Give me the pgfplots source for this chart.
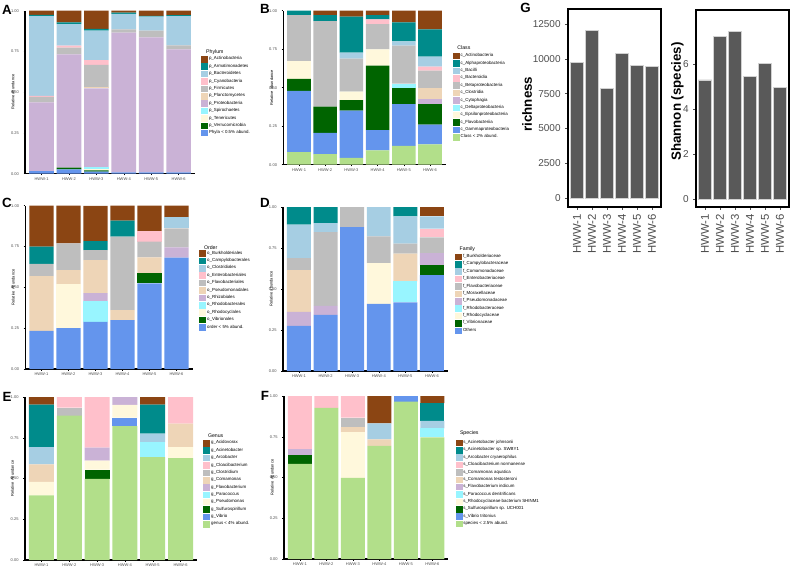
\documentclass[border=0pt]{standalone}
\usepackage{fontspec}
\setmainfont{Liberation Sans}
\usepackage{pgfplots}
\pgfplotsset{compat=1.18}
\definecolor{cBrown}{HTML}{8B4513}
\definecolor{cTeal}{HTML}{008B8B}
\definecolor{cLB}{HTML}{A6CEE3}
\definecolor{cPink}{HTML}{FFC0CB}
\definecolor{cGrey}{HTML}{BEBEBE}
\definecolor{cPeach}{HTML}{EED5B7}
\definecolor{cThistle}{HTML}{CAB2D6}
\definecolor{cCyan}{HTML}{98F5FF}
\definecolor{cSilk}{HTML}{FFF8DC}
\definecolor{cDG}{HTML}{006400}
\definecolor{cBlue}{HTML}{6495ED}
\definecolor{cLG}{HTML}{B2DF8A}
\definecolor{cBar}{HTML}{595959}
\definecolor{cTick}{HTML}{4D4D4D}
\newcommand{\fs}{\fontsize{3}{3.6}\selectfont}
\newcommand{\fl}{\fontsize{3.3}{3.8}\selectfont}
\newcommand{\ft}{\fontsize{3.9}{4.5}\selectfont}
\newcommand{\fp}{\bfseries\fontsize{10}{11}\selectfont}
\pgfplotsset{
  stk/.style={
    scale only axis, anchor=south west,
    ybar stacked, bar width=0.9,
    xmin=-0.6, xmax=5.6, ymin=0, ymax=1,
    xtick={0,...,5}, xticklabels={HWW-1,HWW-2,HWW-3,HWW-4,HWW-5,HWW-6},
    ytick={0,0.25,0.5,0.75,1},
    yticklabel style={/pgf/number format/.cd, fixed, fixed zerofill, precision=2},
    /pgf/number format/assume math mode=true,
    axis x line*=bottom, axis y line*=left,
    axis line style={black, line width=1.1pt, -},
    tick style={black, line width=0.3pt},
    major tick length=1.2pt, tick align=outside,
    ticklabel style={font=\fs, text=cTick},
    xticklabel style={yshift=1.6pt},
    label style={font=\fs},
    ylabel style={at={(axis description cs:-0.072,0.5)}, anchor=center},
    reverse legend, legend cell align=left,
    legend image code/.code={\fill[##1] (0pt,-2.45pt) rectangle (5.2pt,2.45pt);},
    legend style={draw=none, fill=none, anchor=north west, inner sep=0pt,
      row sep=0.45pt, font=\fl, nodes={inner sep=0.6pt},
      /tikz/every even column/.append style={column sep=1.4pt}},
  },
  gbar/.style={
    scale only axis, anchor=south west, ybar, bar width=0.9,
    xmin=-0.6, xmax=5.6,
    xtick={0,...,5}, xticklabels={HWW-1,HWW-2,HWW-3,HWW-4,HWW-5,HWW-6},
    /pgf/number format/assume math mode=true,
    axis line style={black, line width=0.9pt},
    tick style={cTick, line width=0.5pt},
    major tick length=2pt, tick align=outside,
    xtick pos=bottom, ytick pos=left,
    yticklabel style={font=\fontsize{7.5}{8.5}\selectfont, text=cTick},
    xticklabel style={font=\fontsize{8.5}{9.5}\selectfont, text=cTick, rotate=90, anchor=east},
    label style={font=\bfseries\fontsize{10}{11}\selectfont},
    scaled y ticks=false,
    yticklabel style={/pgf/number format/1000 sep={}},
  }
}
\begin{document}
\begin{tikzpicture}[x=0.75pt,y=-0.75pt]
\path[use as bounding box] (0,0) rectangle (790,567);

% ---------------- A ----------------
\begin{axis}[stk, at={({25.1*0.75pt},{-173.7*0.75pt})}, width=127.5pt, height=122.25pt,
  ylabel={Relative abundance}, legend style={at={(1.035,0.724)}}]
\addplot[fill=cBlue,draw=none] coordinates {(0,.016) (1,.027) (2,.012) (3,.008) (4,.008) (5,.008)};
\addlegendentry{Phyla < 0.5\% abund.}
\addplot[fill=cDG,draw=none] coordinates {(0,0) (1,.010) (2,.008) (3,0) (4,0) (5,0)};
\addlegendentry{p\_Verrucomicrobia}
\addplot[fill=cSilk,draw=none] coordinates {(0,0) (1,0) (2,.008) (3,0) (4,0) (5,0)};
\addlegendentry{p\_Tenericutes}
\addplot[fill=cCyan,draw=none] coordinates {(0,0) (1,0) (2,.014) (3,0) (4,0) (5,0)};
\addlegendentry{p\_Spirochaetes}
\addplot[fill=cThistle,draw=none] coordinates {(0,.421) (1,.695) (2,.4815) (3,.857) (4,.828) (5,.755)};
\addlegendentry{p\_Proteobacteria}
\addplot[fill=cPeach,draw=none] coordinates {(0,0) (1,0) (2,.0065) (3,0) (4,0) (5,0)};
\addlegendentry{p\_Planctomycetes}
\addplot[fill=cGrey,draw=none] coordinates {(0,.035) (1,.041) (2,.137) (3,.020) (4,.041) (5,.024)};
\addlegendentry{p\_Firmicutes}
\addplot[fill=cPink,draw=none] coordinates {(0,.006) (1,.012) (2,.030) (3,0) (4,0) (5,0)};
\addlegendentry{p\_Cyanobacteria}
\addplot[fill=cLB,draw=none] coordinates {(0,.489) (1,.133) (2,.180) (3,.095) (4,.086) (5,.180)};
\addlegendentry{p\_Bacteroidetes}
\addplot[fill=cTeal,draw=none] coordinates {(0,.007) (1,.010) (2,.011) (3,.008) (4,.006) (5,.006)};
\addlegendentry{p\_Armatimonadetes}
\addplot[fill=cBrown,draw=none] coordinates {(0,.026) (1,.072) (2,.112) (3,.012) (4,.031) (5,.027)};
\addlegendentry{p\_Actinobacteria}
\end{axis}

% ---------------- B ----------------
\begin{axis}[stk, at={({283.3*0.75pt},{-164.7*0.75pt})}, width=121.8pt, height=115.5pt,
  ylabel={Relative abundance}, legend style={at={(1.043,0.729)}}]
\addplot[fill=cLG,draw=none] coordinates {(0,.082) (1,.069) (2,.045) (3,.093) (4,.123) (5,.132)};
\addlegendentry{Class < 2\% abund.}
\addplot[fill=cBlue,draw=none] coordinates {(0,.398) (1,.137) (2,.306) (3,.132) (4,.271) (5,.128)};
\addlegendentry{c\_Gammaproteobacteria}
\addplot[fill=cDG,draw=none] coordinates {(0,.078) (1,.171) (2,.069) (3,.418) (4,.104) (5,.134)};
\addlegendentry{c\_Flavobacteriia}
\addplot[fill=cSilk,draw=none] coordinates {(0,.115) (1,0) (2,.054) (3,.106) (4,0) (5,0)};
\addlegendentry{c\_Epsilonproteobacteria}
\addplot[fill=cCyan,draw=none] coordinates {(0,0) (1,0) (2,0) (3,0) (4,.028) (5,0)};
\addlegendentry{c\_Deltaproteobacteria}
\addplot[fill=cThistle,draw=none] coordinates {(0,0) (1,0) (2,0) (3,0) (4,0) (5,.030)};
\addlegendentry{c\_Cytophagia}
\addplot[fill=cPeach,draw=none] coordinates {(0,0) (1,0) (2,0) (3,0) (4,0) (5,.074)};
\addlegendentry{c\_Clostridia}
\addplot[fill=cGrey,draw=none] coordinates {(0,.299) (1,.556) (2,.214) (3,.164) (4,.247) (5,.113)};
\addlegendentry{c\_Betaproteobacteria}
\addplot[fill=cPink,draw=none] coordinates {(0,0) (1,0) (2,0) (3,.031) (4,0) (5,.026)};
\addlegendentry{c\_Bacteroidia}
\addplot[fill=cLB,draw=none] coordinates {(0,0) (1,0) (2,.039) (3,0) (4,.028) (5,.065)};
\addlegendentry{c\_Bacilli}
\addplot[fill=cTeal,draw=none] coordinates {(0,.028) (1,.039) (2,.234) (3,.028) (4,.123) (5,.177)};
\addlegendentry{c\_Alphaproteobacteria}
\addplot[fill=cBrown,draw=none] coordinates {(0,0) (1,.028) (2,.039) (3,.028) (4,.076) (5,.121)};
\addlegendentry{c\_Actinobacteria}
\end{axis}

% ---------------- C ----------------
\begin{axis}[stk, at={({25.3*0.75pt},{-369*0.75pt})}, width=125.55pt, height=122.5pt,
  ylabel={Relative Abundance}, legend style={at={(1.039,0.729)}}]
\addplot[fill=cBlue,draw=none] coordinates {(0,.233) (1,.251) (2,.288) (3,.300) (4,.524) (5,.682)};
\addlegendentry{order < 5\% abund.}
\addplot[fill=cDG,draw=none] coordinates {(0,0) (1,0) (2,0) (3,0) (4,.062) (5,0)};
\addlegendentry{o\_Vibrionales}
\addplot[fill=cSilk,draw=none] coordinates {(0,0) (1,.269) (2,0) (3,0) (4,0) (5,0)};
\addlegendentry{o\_Rhodocyclales}
\addplot[fill=cCyan,draw=none] coordinates {(0,0) (1,0) (2,.128) (3,0) (4,0) (5,0)};
\addlegendentry{o\_Rhodobacterales}
\addplot[fill=cThistle,draw=none] coordinates {(0,0) (1,0) (2,.049) (3,0) (4,0) (5,.063)};
\addlegendentry{o\_Rhizobiales}
\addplot[fill=cPeach,draw=none] coordinates {(0,.336) (1,.086) (2,.202) (3,.061) (4,.098) (5,0)};
\addlegendentry{o\_Pseudomonadales}
\addplot[fill=cGrey,draw=none] coordinates {(0,.074) (1,.163) (2,.061) (3,.449) (4,.096) (5,.116)};
\addlegendentry{o\_Flavobacteriales}
\addplot[fill=cPink,draw=none] coordinates {(0,0) (1,0) (2,0) (3,0) (4,.065) (5,0)};
\addlegendentry{o\_Enterobacteriales}
\addplot[fill=cLB,draw=none] coordinates {(0,0) (1,0) (2,0) (3,0) (4,0) (5,.068)};
\addlegendentry{o\_Clostridiales}
\addplot[fill=cTeal,draw=none] coordinates {(0,.106) (1,0) (2,.055) (3,.098) (4,0) (5,0)};
\addlegendentry{o\_Campylobacterales}
\addplot[fill=cBrown,draw=none] coordinates {(0,.251) (1,.231) (2,.216) (3,.092) (4,.155) (5,.071)};
\addlegendentry{o\_Burkholderiales}
\end{axis}

% ---------------- D ----------------
\begin{axis}[stk, at={({283*0.75pt},{-371*0.75pt})}, width=123.7pt, height=123pt,
  ylabel={Relative abundance}, legend style={at={(1.043,0.718)}}]
\addplot[fill=cBlue,draw=none] coordinates {(0,.275) (1,.342) (2,.878) (3,.409) (4,.418) (5,.585)};
\addlegendentry{Others}
\addplot[fill=cDG,draw=none] coordinates {(0,0) (1,0) (2,0) (3,0) (4,0) (5,.059)};
\addlegendentry{f\_Vibrionaceae}
\addplot[fill=cSilk,draw=none] coordinates {(0,0) (1,0) (2,0) (3,.249) (4,0) (5,0)};
\addlegendentry{f\_Rhodocyclaceae}
\addplot[fill=cCyan,draw=none] coordinates {(0,0) (1,0) (2,0) (3,0) (4,.128) (5,0)};
\addlegendentry{f\_Rhodobacteraceae}
\addplot[fill=cThistle,draw=none] coordinates {(0,.085) (1,.055) (2,0) (3,0) (4,0) (5,.075)};
\addlegendentry{f\_Pseudomonadaceae}
\addplot[fill=cPeach,draw=none] coordinates {(0,.255) (1,0) (2,0) (3,0) (4,.169) (5,0)};
\addlegendentry{f\_Moraxellaceae}
\addplot[fill=cGrey,draw=none] coordinates {(0,.073) (1,.450) (2,.122) (3,.163) (4,.061) (5,.096)};
\addlegendentry{f\_Flavobacteriaceae}
\addplot[fill=cPink,draw=none] coordinates {(0,0) (1,0) (2,0) (3,0) (4,0) (5,.053)};
\addlegendentry{f\_Enterobacteriaceae}
\addplot[fill=cLB,draw=none] coordinates {(0,.204) (1,.055) (2,0) (3,.179) (4,.167) (5,.075)};
\addlegendentry{f\_Comamonadaceae}
\addplot[fill=cTeal,draw=none] coordinates {(0,.108) (1,.098) (2,0) (3,0) (4,.057) (5,0)};
\addlegendentry{f\_Campylobacteraceae}
\addplot[fill=cBrown,draw=none] coordinates {(0,0) (1,0) (2,0) (3,0) (4,0) (5,.057)};
\addlegendentry{f\_Burkholderiaceae}
\end{axis}

% ---------------- E ----------------
\begin{axis}[stk, at={({24.8*0.75pt},{-560*0.75pt})}, width=129.3pt, height=122.25pt,
  ylabel={Relative Abundance}, legend style={at={(1.035,0.738)}}]
\addplot[fill=cLG,draw=none] coordinates {(0,.397) (1,.886) (2,.497) (3,.821) (4,.631) (5,.625)};
\addlegendentry{genus < 4\% abund.}
\addplot[fill=cBlue,draw=none] coordinates {(0,0) (1,0) (2,0) (3,.053) (4,0) (5,0)};
\addlegendentry{g\_Vibrio}
\addplot[fill=cDG,draw=none] coordinates {(0,0) (1,0) (2,.057) (3,0) (4,0) (5,0)};
\addlegendentry{g\_Sulfurospirillum}
\addplot[fill=cSilk,draw=none] coordinates {(0,.082) (1,0) (2,.055) (3,.077) (4,0) (5,.067)};
\addlegendentry{g\_Pseudomonas}
\addplot[fill=cCyan,draw=none] coordinates {(0,0) (1,0) (2,0) (3,0) (4,.090) (5,0)};
\addlegendentry{g\_Paracoccus}
\addplot[fill=cThistle,draw=none] coordinates {(0,0) (1,0) (2,.081) (3,.049) (4,0) (5,0)};
\addlegendentry{g\_Flavobacterium}
\addplot[fill=cPeach,draw=none] coordinates {(0,.108) (1,0) (2,0) (3,0) (4,0) (5,.145)};
\addlegendentry{g\_Comamonas}
\addplot[fill=cGrey,draw=none] coordinates {(0,0) (1,.049) (2,0) (3,0) (4,0) (5,0)};
\addlegendentry{g\_Clostridium}
\addplot[fill=cPink,draw=none] coordinates {(0,0) (1,.065) (2,.310) (3,0) (4,0) (5,.163)};
\addlegendentry{g\_Cloacibacterium}
\addplot[fill=cLB,draw=none] coordinates {(0,.105) (1,0) (2,0) (3,0) (4,.055) (5,0)};
\addlegendentry{g\_Arcobacter}
\addplot[fill=cTeal,draw=none] coordinates {(0,.261) (1,0) (2,0) (3,0) (4,.177) (5,0)};
\addlegendentry{g\_Acinetobacter}
\addplot[fill=cBrown,draw=none] coordinates {(0,.047) (1,0) (2,0) (3,0) (4,.047) (5,0)};
\addlegendentry{g\_Acidovorax}
\end{axis}

% ---------------- F ----------------
\begin{axis}[stk, at={({284*0.75pt},{-559*0.75pt})}, width=123.2pt, height=122.25pt,
  ylabel={Relative Abundance}, legend style={at={(1.043,0.735)}}]
\addplot[fill=cLG,draw=none] coordinates {(0,.584) (1,.927) (2,.497) (3,.694) (4,.966) (5,.746)};
\addlegendentry{species < 2.5\% abund.}
\addplot[fill=cBlue,draw=none] coordinates {(0,0) (1,0) (2,0) (3,0) (4,.034) (5,0)};
\addlegendentry{s\_Vibrio tritonius}
\addplot[fill=cDG,draw=none] coordinates {(0,.051) (1,0) (2,0) (3,0) (4,0) (5,0)};
\addlegendentry{s\_Sulfurospirillum sp. UCH001}
\addplot[fill=cSilk,draw=none] coordinates {(0,0) (1,0) (2,.280) (3,0) (4,0) (5,0)};
\addlegendentry{s\_Rhodocyclaceae bacterium SHINM1}
\addplot[fill=cCyan,draw=none] coordinates {(0,0) (1,0) (2,0) (3,0) (4,0) (5,.055)};
\addlegendentry{s\_Paracoccus denitrificans}
\addplot[fill=cThistle,draw=none] coordinates {(0,.040) (1,0) (2,0) (3,0) (4,0) (5,0)};
\addlegendentry{s\_Flavobacterium indicum}
\addplot[fill=cPeach,draw=none] coordinates {(0,0) (1,0) (2,.032) (3,.040) (4,0) (5,0)};
\addlegendentry{s\_Comamonas testosteroni}
\addplot[fill=cGrey,draw=none] coordinates {(0,0) (1,0) (2,.059) (3,0) (4,0) (5,0)};
\addlegendentry{s\_Comamonas aquatica}
\addplot[fill=cPink,draw=none] coordinates {(0,.325) (1,.073) (2,.132) (3,0) (4,0) (5,0)};
\addlegendentry{s\_Cloacibacterium normanense}
\addplot[fill=cLB,draw=none] coordinates {(0,0) (1,0) (2,0) (3,.098) (4,0) (5,.047)};
\addlegendentry{s\_Arcobacter cryaerophilus}
\addplot[fill=cTeal,draw=none] coordinates {(0,0) (1,0) (2,0) (3,0) (4,0) (5,.109)};
\addlegendentry{s\_Acinetobacter sp. SWBY1}
\addplot[fill=cBrown,draw=none] coordinates {(0,0) (1,0) (2,0) (3,.168) (4,0) (5,.043)};
\addlegendentry{s\_Acinetobacter johnsonii}
\end{axis}

% ---------------- G ----------------
\begin{axis}[gbar, at={({568*0.75pt},{-207*0.75pt})}, width=69.75pt, height=148.5pt,
  ymin=-640, ymax=13580, ytick={0,2500,5000,7500,10000,12500},
  ylabel={richness}, ylabel style={at={(axis description cs:-0.44,0.52)}, anchor=center}]
\addplot[fill=cBar, draw=white!82!black, line width=0.4pt] coordinates {(0,9770) (1,12020) (2,7853) (3,10417) (4,9555) (5,9460)};
\end{axis}
\begin{axis}[gbar, at={({696*0.75pt},{-207*0.75pt})}, width=69.75pt, height=147.75pt,
  ymin=-0.36, ymax=8.4, ytick={0,2,4,6},
  ylabel={Shannon (species)}, ylabel style={at={(axis description cs:-0.2,0.535)}, anchor=center}]
\addplot[fill=cBar, draw=white!82!black, line width=0.4pt] coordinates {(0,5.29) (1,7.21) (2,7.44) (3,5.44) (4,6.01) (5,4.95)};
\end{axis}

% legend titles and panel letters
\node[font=\ft, anchor=base west] at (201.5,53.5) {Phylum};
\node[font=\ft, anchor=base west] at (452.7,50) {Class};
\node[font=\ft, anchor=base west] at (199.3,249) {Order};
\node[font=\ft, anchor=base west] at (455,250.5) {Family};
\node[font=\ft, anchor=base west] at (203.3,437) {Genus};
\node[font=\ft, anchor=base west] at (455.3,434.5) {Species};
\node[font=\fp] at (7,10) {A};
\node[font=\fp] at (265,9) {B};
\node[font=\fp] at (7,203) {C};
\node[font=\fp] at (265,203) {D};
\node[font=\fp] at (7,397) {E};
\node[font=\fp] at (265,396) {F};
\node[font=\fp] at (525.5,8) {G};
\end{tikzpicture}
\end{document}
